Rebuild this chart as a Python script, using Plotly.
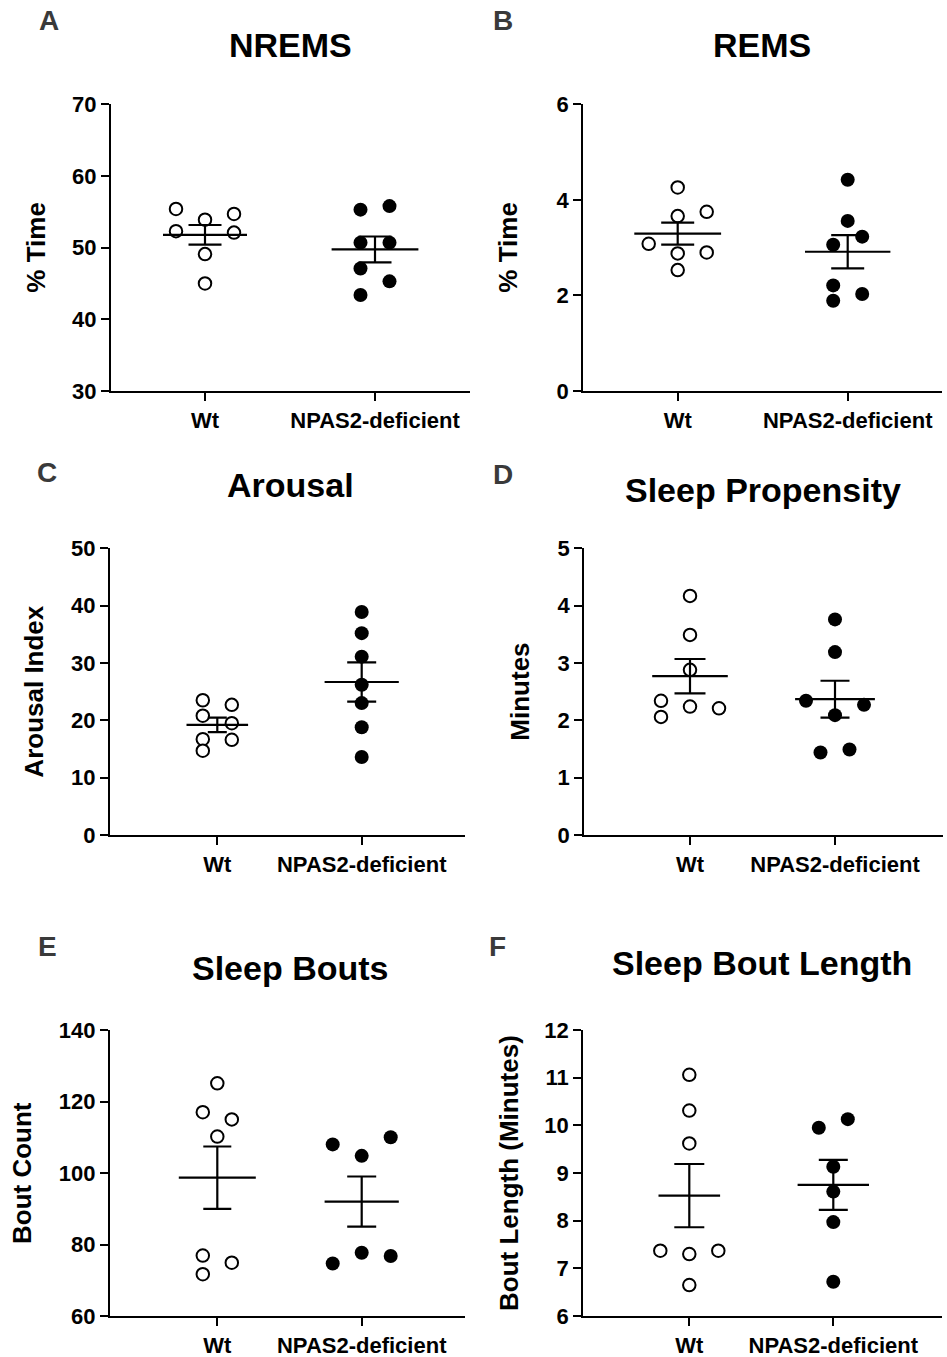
import numpy as np
import plotly.graph_objects as go

W, H = 947, 1357

groups = ["Wt", "NPAS2-deficient"]

# ---- data ----
nrems_wt = [55.4, 53.9, 54.7, 52.3, 52.1, 49.1, 45.0]
nrems_ko = [55.3, 55.8, 50.7, 50.7, 47.1, 45.3, 43.4]
rems_wt = [4.26, 3.66, 3.75, 3.08, 2.88, 2.90, 2.53]
rems_ko = [4.42, 3.56, 3.23, 3.06, 2.21, 2.03, 1.89]
arousal_wt = [23.5, 22.7, 20.8, 19.5, 16.7, 16.6, 14.7]
arousal_ko = [38.9, 35.2, 31.1, 26.2, 23.0, 18.8, 13.6]
propensity_wt = [4.17, 3.49, 2.88, 2.34, 2.24, 2.21, 2.06]
propensity_ko = [3.76, 3.19, 2.34, 2.27, 2.09, 1.44, 1.49]
bouts_wt = [125.1, 117.0, 115.0, 110.2, 76.9, 74.9, 71.7]
bouts_ko = [108.0, 104.8, 110.0, 74.7, 77.7, 76.8]
boutlen_wt = [11.06, 10.31, 9.62, 7.37, 7.30, 7.37, 6.65]
boutlen_ko = [9.95, 10.13, 9.13, 8.61, 7.97, 6.72]

# ---- scatter (jitter) slots, separate from data ----
jit_nrems_wt = [-2, 0, 2, -2, 2, 0, 0]
jit_nrems_ko = [-1, 1, -1, 1, -1, 1, -1]
jit_rems_wt = [0, 0, 2, -2, 0, 2, 0]
jit_rems_ko = [0, 0, 1, -1, -1, 1, -1]
jit_arousal_wt = [-1, 1, -1, 1, -1, 1, -1]
jit_arousal_ko = [0, 0, 0, 0, 0, 0, 0]
jit_prop_wt = [0, 0, 0, -2, 0, 2, -2]
jit_prop_ko = [0, 0, -2, 2, 0, -1, 1]
jit_bouts_wt = [0, -1, 1, 0, -1, 1, -1]
jit_bouts_ko = [-2, 0, 2, -2, 0, 2]
jit_len_wt = [0, 0, 0, -2, 0, 2, 0]
jit_len_ko = [-1, 1, 0, 0, 0, 0]

SLOT_PX = 14.5

panels = [
    dict(letter="A", title="NREMS", ytitle="% Time", wt=nrems_wt, ko=nrems_ko,
         jw=jit_nrems_wt, jk=jit_nrems_ko, yr=[30, 70], dt=10,
         px=(111, 470), py=(104.3, 391), wt_x=205, ko_x=375,
         title_xy=(290, 45), letter_xy=(49, 21), ytitle_x=36,
         mean_w=(60, 62), cap_w=(16.5, 16.5)),
    dict(letter="B", title="REMS", ytitle="% Time", wt=rems_wt, ko=rems_ko,
         jw=jit_rems_wt, jk=jit_rems_ko, yr=[0, 6], dt=2,
         px=(583.3, 941.7), py=(104.3, 391), wt_x=677.7, ko_x=847.7,
         title_xy=(762, 45), letter_xy=(503, 21), ytitle_x=508,
         mean_w=(62, 61), cap_w=(16.5, 16.5)),
    dict(letter="C", title="Arousal", ytitle="Arousal Index", wt=arousal_wt, ko=arousal_ko,
         jw=jit_arousal_wt, jk=jit_arousal_ko, yr=[0, 50], dt=10,
         px=(110, 465), py=(548.3, 835), wt_x=217.3, ko_x=361.7,
         title_xy=(290, 485), letter_xy=(47, 472), ytitle_x=34,
         mean_w=(44, 53), cap_w=(9.5, 14.5)),
    dict(letter="D", title="Sleep Propensity", ytitle="Minutes", wt=propensity_wt, ko=propensity_ko,
         jw=jit_prop_wt, jk=jit_prop_ko, yr=[0, 5], dt=1,
         px=(584.3, 943), py=(548.3, 835), wt_x=690, ko_x=835,
         title_xy=(763, 490), letter_xy=(503, 474), ytitle_x=520,
         mean_w=(54, 57), cap_w=(15.5, 14.5)),
    dict(letter="E", title="Sleep Bouts", ytitle="Bout Count", wt=bouts_wt, ko=bouts_ko,
         jw=jit_bouts_wt, jk=jit_bouts_ko, yr=[60, 140], dt=20,
         px=(110, 465), py=(1030, 1316), wt_x=217.3, ko_x=361.7,
         title_xy=(290, 968), letter_xy=(47, 946), ytitle_x=22,
         mean_w=(55, 53), cap_w=(14, 14.5)),
    dict(letter="F", title="Sleep Bout Length", ytitle="Bout Length (Minutes)", wt=boutlen_wt, ko=boutlen_ko,
         jw=jit_len_wt, jk=jit_len_ko, yr=[6, 12], dt=1,
         px=(583.3, 942), py=(1030, 1316), wt_x=689.3, ko_x=833.3,
         title_xy=(762, 963), letter_xy=(497, 946), ytitle_x=509,
         mean_w=(44, 51), cap_w=(15, 14.5)),
]

FONT = "Liberation Sans, Arial, Helvetica, sans-serif"

fig = go.Figure()
annotations = []
layout_axes = {}

for i, p in enumerate(panels):
    n = i + 1
    xa = "x" if n == 1 else f"x{n}"
    ya = "y" if n == 1 else f"y{n}"
    xkey = "xaxis" if n == 1 else f"xaxis{n}"
    ykey = "yaxis" if n == 1 else f"yaxis{n}"

    unit = p["ko_x"] - p["wt_x"]
    x0 = (p["px"][0] - p["wt_x"]) / unit
    x1 = (p["px"][1] - p["wt_x"]) / unit
    slot = SLOT_PX / unit

    for gi, (vals, jit, filled) in enumerate([(p["wt"], p["jw"], False), (p["ko"], p["jk"], True)]):
        xs = [gi + j * slot for j in jit]
        fig.add_trace(go.Scatter(
            x=xs, y=vals, mode="markers", xaxis=xa, yaxis=ya, showlegend=False,
            marker=dict(symbol="circle", size=14 if filled else 12.5,
                        color="black" if filled else "white",
                        line=dict(color="black", width=0 if filled else 2)),
            hoverinfo="y"))
    for gi, vals in enumerate([p["wt"], p["ko"]]):
        arr = np.array(vals, dtype=float)
        m = arr.mean()
        sem = arr.std(ddof=1) / np.sqrt(len(arr))
        fig.add_trace(go.Scatter(
            x=[gi], y=[m], mode="markers", xaxis=xa, yaxis=ya, showlegend=False,
            marker=dict(symbol="line-ew", size=p["mean_w"][gi], color="black",
                        line=dict(color="black", width=2.2)),
            error_y=dict(type="data", array=[sem], visible=True, color="black",
                         thickness=2.2, width=p["cap_w"][gi]),
            hoverinfo="y"))

    layout_axes[xkey] = dict(
        domain=[p["px"][0] / W, p["px"][1] / W], anchor=ya, automargin=False,
        range=[x0, x1], tickvals=[0, 1], ticktext=groups,
        showline=True, linewidth=2.2, linecolor="black",
        ticks="outside", ticklen=8, tickwidth=2.2, tickcolor="black",
        showgrid=False, zeroline=False, fixedrange=True,
        tickfont=dict(family=FONT, size=22, color="black", weight="bold"))
    layout_axes[ykey] = dict(
        domain=[1 - p["py"][1] / H, 1 - p["py"][0] / H], anchor=xa, automargin=False,
        range=p["yr"], tick0=p["yr"][0], dtick=p["dt"],
        showline=True, linewidth=2.2, linecolor="black",
        ticks="outside", ticklen=8, tickwidth=2.2, tickcolor="black",
        showgrid=False, zeroline=False, fixedrange=True,
        tickfont=dict(family=FONT, size=22, color="black", weight="bold"))

    annotations.append(dict(
        text=p["title"], x=p["title_xy"][0] / W, y=1 - p["title_xy"][1] / H,
        xref="paper", yref="paper", xanchor="center", yanchor="middle", showarrow=False,
        font=dict(family=FONT, size=34, color="black", weight="bold")))
    annotations.append(dict(
        text=p["letter"], x=p["letter_xy"][0] / W, y=1 - p["letter_xy"][1] / H,
        xref="paper", yref="paper", xanchor="center", yanchor="middle", showarrow=False,
        font=dict(family=FONT, size=28, color="#3a3a3a", weight="bold")))
    annotations.append(dict(
        text=p["ytitle"], x=p["ytitle_x"] / W,
        y=1 - (p["py"][0] + p["py"][1]) / 2 / H,
        xref="paper", yref="paper", xanchor="center", yanchor="middle", showarrow=False,
        textangle=-90,
        font=dict(family=FONT, size=26, color="black", weight="bold")))

fig.update_layout(
    width=W, height=H, margin=dict(l=0, r=0, t=0, b=0, autoexpand=False),
    paper_bgcolor="white", plot_bgcolor="white",
    showlegend=False, annotations=annotations, **layout_axes)

fig.write_html(
    "out.html",
    config={"displayModeBar": False},
    post_script="document.body.style.margin='0';document.body.style.overflow='hidden';",
)
